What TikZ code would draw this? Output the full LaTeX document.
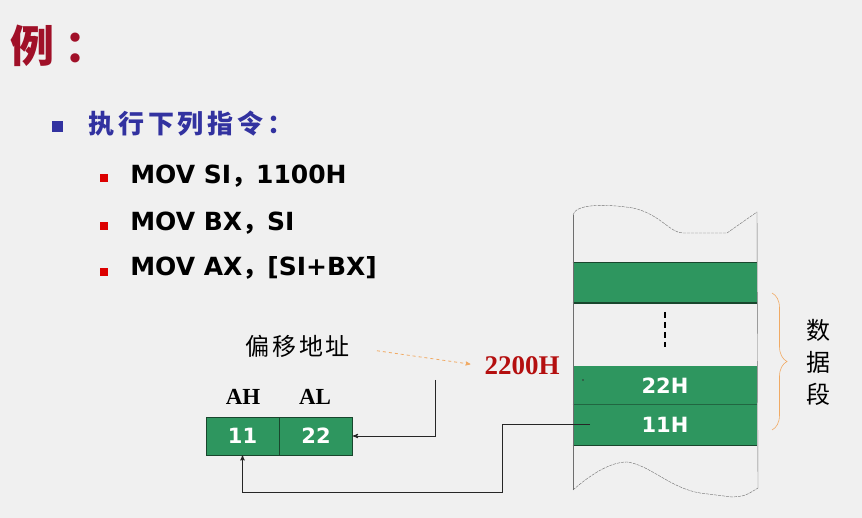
\documentclass[tikz,border=0pt]{standalone}
\usepackage{fontspec}
\usepackage{tikz}
\usetikzlibrary{arrows,decorations.pathreplacing}
\setmainfont{DejaVu Sans}
\newfontfamily\cjk{Noto Sans CJK SC}
\newfontfamily\verd{DejaVu Sans}
\newfontfamily\tms{Liberation Serif}
\definecolor{bgcol}{RGB}{240,240,240}
\definecolor{titlered}{RGB}{160,16,40}
\definecolor{headblue}{RGB}{50,50,160}
\definecolor{bulred}{RGB}{220,0,0}
\definecolor{addrred}{RGB}{180,15,15}
\definecolor{cellgreen}{RGB}{46,150,95}
\definecolor{cellline}{RGB}{25,70,45}
\definecolor{braceorange}{RGB}{240,170,100}
\definecolor{memgray}{RGB}{110,110,110}

\begin{document}
\begin{tikzpicture}[x=1pt,y=-1pt,>=stealth',semithick]
\tikzstyle{cell}=[shape=rectangle,fill=cellgreen,minimum width=184pt,inner sep=0pt,text=white,font=\verd\bfseries\fontsize{21}{21}\selectfont]
\tikzstyle{reg}=[shape=rectangle,draw=cellline,fill=cellgreen,minimum width=73pt,minimum height=38pt,inner sep=0pt,text=white,font=\verd\bfseries\fontsize{21}{21}\selectfont]
\tikzstyle{instr}=[anchor=base west,inner sep=0pt,font=\verd\bfseries\fontsize{25}{30}\selectfont]
\tikzstyle{rbul}=[shape=rectangle,fill=bulred,minimum size=8pt,inner sep=0pt]
\tikzstyle{regname}=[anchor=base,inner sep=0pt,font=\tms\bfseries\fontsize{23}{23}\selectfont]
\tikzstyle{wire}=[line width=0.9pt,black!85]
\tikzstyle{edgeline}=[cellline,line width=1.6pt]
\fill[bgcol] (0,0) rectangle (862,518);
\useasboundingbox (0,0) rectangle (862,518);

% title and instructions
\node[anchor=base west,inner sep=0pt,text=titlered,font=\cjk\bfseries\fontsize{44}{44}\selectfont] (title) at (10,63) {例\hspace{10pt}：};
\node[shape=rectangle,fill=headblue,minimum size=11pt,inner sep=0pt] (hbul) at (57,127) {};
\node[anchor=base west,inner sep=0pt,text=headblue,font=\cjk\bfseries\fontsize{26}{26}\selectfont\addfontfeatures{LetterSpace=15}] (head) at (88,134) {执行下列指令：};
\node[rbul] (b1) at (104,178) {};
\node[rbul] (b2) at (104,226) {};
\node[rbul] (b3) at (104,272) {};
\node[instr] (i1) at (130,184) {MOV SI{\cjk ，}1100H};
\node[instr] (i2) at (130,231) {MOV BX{\cjk ，}SI};
\node[instr] (i3) at (130,276) {MOV AX{\cjk ，}[SI+BX]};

% register AX
\node[anchor=base west,inner sep=0pt,font=\cjk\fontsize{24}{24}\selectfont\addfontfeatures{LetterSpace=12}] (off) at (245,356) {偏移地址};
\node[anchor=base,inner sep=0pt,text=addrred,font=\tms\bfseries\fontsize{27}{27}\selectfont] (ea) at (522,375) {2200H};
\node[reg] (ah) at (242.5,436) {11};
\node[reg] (al) at (316,436) {22};
\node[regname] (ahname) at (243,405) {AH};
\node[regname] (alname) at (315,405) {AL};

% memory
\node[cell,minimum height=40pt] (topcell) at (665,283) {};
\node[cell,minimum height=39pt] (cellB) at (665,385.5) {22H};
\node[cell,minimum height=40pt] (cellA) at (665,425) {11H};
\draw[edgeline] (topcell.north west) -- (topcell.north east) (topcell.south west) -- (topcell.south east);
\draw[edgeline] (cellA.south west) -- (cellA.south east);
\draw[cellline!60!cellgreen,thin] (cellA.north west) -- (cellA.north east);
\draw[memgray,thin] (573,215) -- (573,490);
\draw[memgray,thin] (757,212) -- (758,488);
\draw[memgray,thin,dash pattern=on 3pt off 1pt] (573,215) .. controls (575,205) and (600,203) .. (633,208) .. controls (660,214) and (670,233) .. (683,233) -- (727,233) -- (757,212);
\draw[memgray,thin,dash pattern=on 3pt off 1pt] (573,490) .. controls (590,475) and (610,462) .. (627,462) .. controls (650,465) and (670,488) .. (700,493) -- (732,497) .. controls (745,496) .. (758,488);
\draw[line width=2.6pt,dash pattern=on 6pt off 4pt] (665,312) -- (665,347);
\draw[braceorange,decorate,decoration={brace,amplitude=15pt}] (772,293) -- (772,430);
\node[align=center,inner sep=0pt,font=\cjk\fontsize{24}{32}\selectfont] (seg) at (818,362) {数\\据\\段};

% connections
\coordinate (tapB) at (583,380);
\coordinate (tapA) at (590,424);
\coordinate (offtop) at (435,380);
\fill[black!80] (tapB) circle (0.9pt);
\draw[->,braceorange,dashed,thick,shorten <=27pt,shorten >=14pt] (off.east) -- (ea.west);
\draw[wire,->] (offtop) |- (al.east);
\draw[wire,->] (tapA) -- ++(-88,0) -- ++(0,68) -| (ah.south);

\end{tikzpicture}
\end{document}
